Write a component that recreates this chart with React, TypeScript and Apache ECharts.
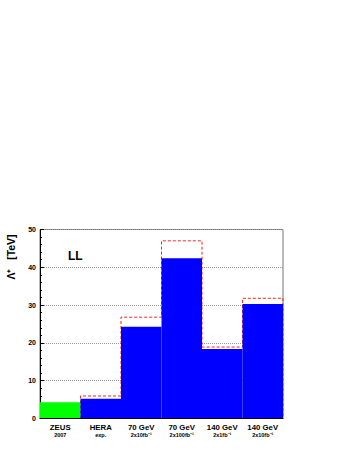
import React, { useEffect, useRef } from "react";
import * as echarts from "echarts";

const categories = ["ZEUS", "HERA", "70 GeV", "70 GeV", "140 GeV", "140 GeV"];
const subLabels = ["2007", "exp.", "2x10fb⁻¹", "2x100fb⁻¹", "2x1fb⁻¹", "2x10fb⁻¹"];
const observed = [4.3, 5.2, 24.3, 42.4, 18.4, 30.3];
const expected: (number | null)[] = [null, 5.95, 26.8, 47.0, 18.9, 31.8];
const barColors = ["#00ff00", "#0000ff", "#0000ff", "#0000ff", "#0000ff", "#0000ff"];
const yTicks = { min: 0, max: 50, interval: 10 };

const FONT = "Liberation Sans, Arial, Helvetica, sans-serif";

export default function App() {
  const ref = useRef<HTMLDivElement>(null);
  useEffect(() => {
    if (!ref.current) return;
    const chart = echarts.init(ref.current, null, { renderer: "svg" });

    const stepPts: number[][] = [];
    let started = false;
    expected.forEach((e, i) => {
      if (e == null) return;
      if (!started) {
        stepPts.push([i, 0]);
        started = true;
      }
      stepPts.push([i, e]);
      stepPts.push([i + 1, e]);
    });
    stepPts.push([expected.length, 0]);

    chart.setOption({
      animation: false,
      backgroundColor: "#ffffff",
      grid: {
        left: 40,
        right: 66,
        top: 229.5,
        bottom: 32.5,
        show: true,
        borderColor: "#777777",
        borderWidth: 1,
        backgroundColor: "transparent",
      },
      xAxis: [
        {
          type: "category",
          data: categories,
          z: 5,
          axisLine: { lineStyle: { color: "#000", width: 1 } },
          axisTick: { inside: true, length: 4, lineStyle: { color: "#000" } },
          axisLabel: {
            interval: 0,
            margin: 4,
            formatter: (v: string, i: number) => `{a|${v}}\n{b|${subLabels[i]}}`,
            rich: {
              a: { fontFamily: FONT, fontWeight: "bold", fontSize: 7.8, color: "#000", lineHeight: 9 },
              b: { fontFamily: FONT, fontWeight: "bold", fontSize: 5.5, color: "#000", lineHeight: 7.5 },
            },
          },
          splitLine: { show: false },
        },
        {
          type: "value",
          min: 0,
          max: expected.length,
          show: false,
        },
      ],
      yAxis: {
        type: "value",
        min: yTicks.min,
        max: yTicks.max,
        interval: yTicks.interval,
        axisLine: { show: true, lineStyle: { color: "#000", width: 1 } },
        axisTick: { show: true, inside: true, length: 4, lineStyle: { color: "#000" } },
        minorTick: { show: true, splitNumber: 5, length: 2, lineStyle: { color: "#000" } },
        axisLabel: {
          margin: 4,
          fontFamily: FONT,
          fontWeight: "bold",
          fontSize: 7,
          color: "#000",
        },
        splitLine: {
          show: true,
          lineStyle: { color: "#999", type: [1, 1], width: 1 },
        },
      },
      series: [
        {
          type: "line",
          xAxisIndex: 1,
          data: stepPts,
          symbol: "none",
          z: 1,
          lineStyle: { color: "#ff2020", width: 1, type: [3, 2] },
        },
        {
          type: "bar",
          xAxisIndex: 0,
          data: observed.map((v, i) => ({ value: v, itemStyle: { color: barColors[i] } })),
          barWidth: "100%",
          barCategoryGap: 0,
          z: 2,
        },
      ],
      graphic: [
        {
          type: "text",
          x: 68,
          y: 256,
          style: {
            text: "LL",
            fontFamily: FONT,
            fontWeight: "bold",
            fontSize: 12,
            fill: "#000",
            verticalAlign: "middle",
          },
        },
        {
          type: "text",
          x: 11,
          y: 257,
          rotation: Math.PI / 2,
          style: {
            text: "Λ⁺   [TeV]",
            fontFamily: FONT,
            fontWeight: "bold",
            fontSize: 10.5,
            fill: "#000",
            align: "center",
            verticalAlign: "middle",
          },
        },
      ],
    });
    return () => chart.dispose();
  }, []);
  return (
    <div
      ref={ref}
      style={{ position: "fixed", left: 0, top: 0, width: 349, height: 451 }}
    />
  );
}
